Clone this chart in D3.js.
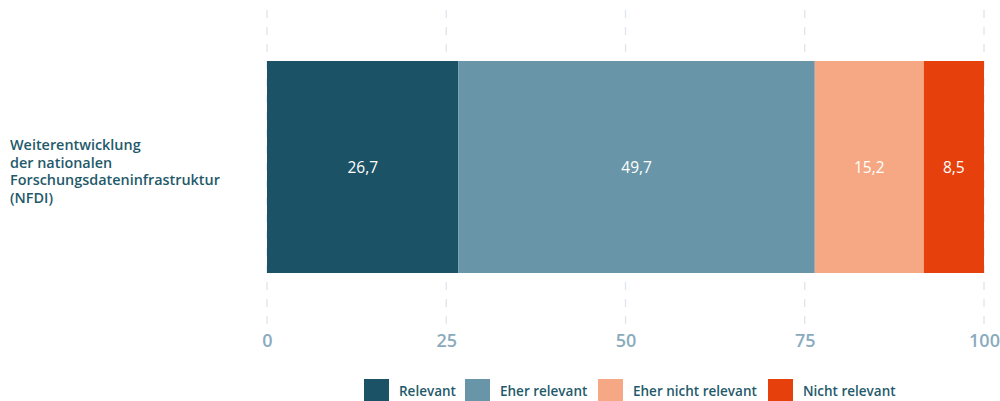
<!DOCTYPE html>
<html><head><meta charset="utf-8">
<script src="https://cdn.jsdelivr.net/npm/d3@7"></script>
<style>body{margin:0;background:#fff}svg{display:block}</style>
</head><body><div id="c"></div>
<script>
const categories = ["Weiterentwicklung der nationalen Forschungsdateninfrastruktur (NFDI)"];
const categoryLines = [["Weiterentwicklung","der nationalen","Forschungsdateninfrastruktur","(NFDI)"]];
const seriesNames = ["Relevant","Eher relevant","Eher nicht relevant","Nicht relevant"];
const seriesValues = [[26.7],[49.7],[15.2],[8.5]];
const colors = ["#1c5266","#6895a8","#f5a883","#e6400c"];
const tickValues = [0,25,50,75,100];

const W=1000,H=401;
const font="'Open Sans', 'DejaVu Sans', sans-serif";
const svg=d3.select("#c").append("svg").attr("width",W).attr("height",H);
const x=d3.scaleLinear().domain([0,100]).range([267,984]);
const y=d3.scaleBand().domain(categories).range([61,273]).padding(0);

// grid
svg.append("g").selectAll("line").data(tickValues).join("line")
 .attr("x1",d=>x(d)).attr("x2",d=>x(d)).attr("y1",10).attr("y2",326)
 .attr("stroke","#dfe5ec").attr("stroke-width",1.3).attr("stroke-dasharray","8,9");

// stacked bars
const rows=categories.map((c,i)=>{let o={cat:c};seriesNames.forEach((s,j)=>o[s]=seriesValues[j][i]);return o;});
const stack=d3.stack().keys(seriesNames)(rows);
const g=svg.append("g");
stack.forEach((layer,j)=>{
  g.selectAll(null).data(layer).join("rect")
   .attr("x",d=>x(d[0])).attr("width",d=>Math.max(0,Math.min(x(d[1]),x(100))-x(d[0])))
   .attr("y",d=>y(d.data.cat)).attr("height",y.bandwidth())
   .attr("fill",colors[j]);
  g.selectAll(null).data(layer).join("text")
   .attr("x",d=>(x(d[0])+Math.min(x(d[1]),x(100)))/2).attr("y",d=>y(d.data.cat)+y.bandwidth()/2)
   .attr("text-anchor","middle").attr("dominant-baseline","central")
   .attr("fill","#fff").attr("font-family",font).attr("font-size",15.5)
   .text(d=>d3.format(".1f")(d[1]-d[0]).replace(".",","));
});

// axis
const ax=svg.append("g").attr("transform","translate(0,331)")
 .call(d3.axisBottom(x).tickValues(tickValues).tickSize(0).tickPadding(3));
ax.select(".domain").remove();
ax.selectAll("text").attr("fill","#8aabbe").attr("font-family",font).attr("font-size",18).attr("font-weight",600);

// category label
categories.forEach((c,i)=>{
  const t=svg.append("text").attr("x",10).attr("fill","#1f5a6b").attr("font-family",font).attr("font-size",14.4).attr("font-weight",600);
  const lines=categoryLines[i], lh=17.5;
  const cy=171;
  lines.forEach((l,k)=>t.append("tspan").attr("x",10).attr("y",cy+(k-(lines.length-1)/2)*lh).attr("dominant-baseline","central").text(l));
});

// legend
const legX=[364,465,598,768];
const lg=svg.append("g");
seriesNames.forEach((s,j)=>{
  lg.append("rect").attr("x",legX[j]).attr("y",379).attr("width",25).attr("height",23).attr("fill",colors[j]);
  lg.append("text").attr("x",legX[j]+35).attr("y",391).attr("dominant-baseline","central")
   .attr("fill","#1f5a6b").attr("font-family",font).attr("font-size",13.5).attr("font-weight",600).text(s);
});
</script></body></html>
